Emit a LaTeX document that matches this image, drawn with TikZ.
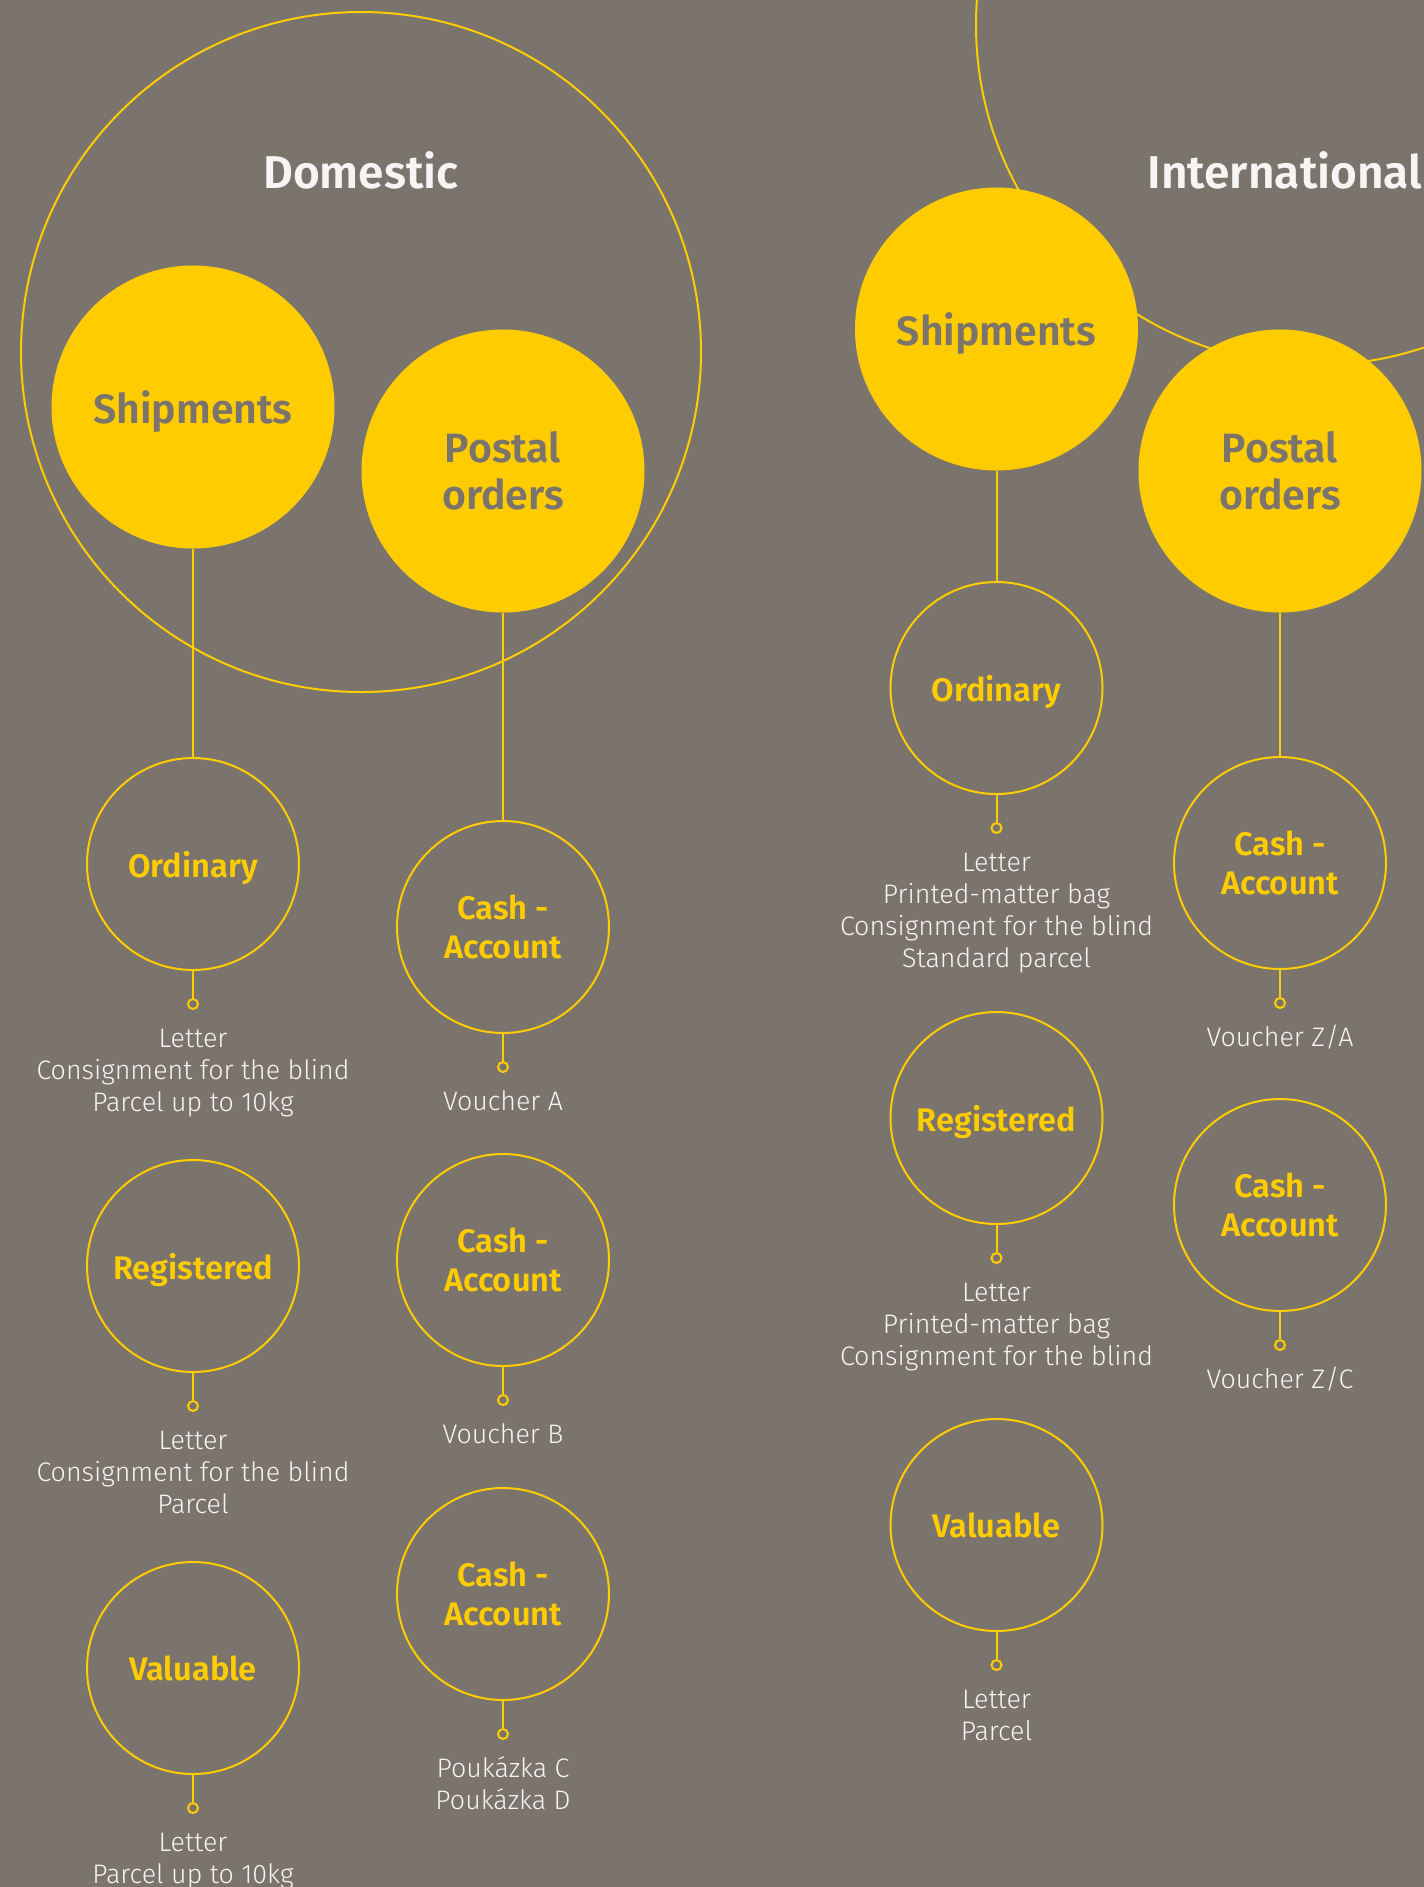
\documentclass[tikz,border=0pt]{standalone}
\usepackage{fontspec}
\setmainfont{Fira Sans}
\newfontfamily\semifont{Fira Sans SemiBold}
\newfontfamily\thinfont{Fira Sans Light}
\definecolor{ground}{RGB}{123,116,109}
\definecolor{gold}{RGB}{255,204,0}
\definecolor{chalk}{RGB}{246,245,243}
% fixed height for the first line of every list
\newcommand\tallstrut{\rule{0pt}{11pt}}

\begin{document}
\begin{tikzpicture}[x=0.5pt,y=-0.5pt,
  group/.style={circle, draw=gold, line width=1pt, minimum size=340pt, inner sep=0pt},
  hub/.style={circle, fill=gold, minimum size=141.5pt, inner sep=0pt,
    text=ground, font=\semifont\fontsize{20.5pt}{23.5pt}\selectfont},
  kind/.style={circle, draw=gold, line width=1pt, minimum size=106pt, inner sep=0pt,
    text=gold, font=\semifont\fontsize{16.3pt}{19.5pt}\selectfont},
  oneline/.style={text depth=0pt},
  twolines/.style={align=center},
  tip/.style={circle, draw=gold, line width=1pt, minimum size=5pt, inner sep=0pt},
  link/.style={draw=gold, line width=1pt},
  items/.style={anchor=north, align=center, text=chalk, inner sep=0pt,
    font=\thinfont\fontsize{13.4pt}{16pt}\selectfont},
  title/.style={anchor=base, text=chalk, inner sep=0pt,
    font=\semifont\fontsize{23pt}{27pt}\selectfont}
]
\fill[ground] (0,0) rectangle (1424,1887);
\useasboundingbox (0,0) rectangle (1424,1887);
\clip (0,0) rectangle (1424,1887);

% the two groups
\node[group] (domestic) at (361,352) {};
\node[group] (international) at (1316,25) {};
\node[title] (domT) at (361,188) {Domestic};
\node[title] (intT) at (1285,188) {International};

% filled hubs
\node[hub, oneline] (shipD) at (193,407) {Shipments};
\node[hub, twolines] (postD) at (503,471) {Postal\\orders};
\node[hub, oneline] (shipI) at (996.5,329) {Shipments};
\node[hub, twolines] (postI) at (1280,471) {Postal\\orders};

% service kinds
\node[kind, oneline] (ordD) at (193,864) {Ordinary};
\node[kind, oneline] (regD) at (193,1266) {Registered};
\node[kind, oneline] (valD) at (193,1668) {Valuable};
\node[kind, twolines] (caD1) at (503,927) {Cash -\\Account};
\node[kind, twolines] (caD2) at (503,1260) {Cash -\\Account};
\node[kind, twolines] (caD3) at (503,1594) {Cash -\\Account};
\node[kind, oneline] (ordI) at (996.5,688) {Ordinary};
\node[kind, oneline] (regI) at (996.5,1118) {Registered};
\node[kind, oneline] (valI) at (996.5,1525) {Valuable};
\node[kind, twolines] (caI1) at (1280,863) {Cash -\\Account};
\node[kind, twolines] (caI2) at (1280,1205) {Cash -\\Account};

% hub to first kind
\draw[link] (shipD.south) -- (ordD.north);
\draw[link] (postD.south) -- (caD1.north);
\draw[link] (shipI.south) -- (ordI.north);
\draw[link] (postI.south) -- (caI1.north);

% small end rings under every kind
\foreach \k in {ordD,regD,valD,caD1,caD2,caD3,ordI,regI,valI,caI1,caI2}{
  \node[tip] (\k-tip) at ([yshift=-70pt]\k.center) {};
  \draw[link] (\k.south) -- (\k-tip.north);
}

% item lists
\node[items] (ordD-list) at ([yshift=-80.5pt]ordD.center)
  {\tallstrut Letter\\Consignment for the blind\\Parcel up to 10kg};
\node[items] (regD-list) at ([yshift=-80.5pt]regD.center)
  {\tallstrut Letter\\Consignment for the blind\\Parcel};
\node[items] (valD-list) at ([yshift=-80.5pt]valD.center)
  {\tallstrut Letter\\Parcel up to 10kg};
\node[items] (caD1-list) at ([yshift=-80.5pt]caD1.center) {\tallstrut Voucher A};
\node[items] (caD2-list) at ([yshift=-80.5pt]caD2.center) {\tallstrut Voucher B};
\node[items] (caD3-list) at ([yshift=-80.5pt]caD3.center)
  {\tallstrut Poukázka C\\Poukázka D};
\node[items] (ordI-list) at ([yshift=-80.5pt]ordI.center)
  {\tallstrut Letter\\Printed-matter bag\\Consignment for the blind\\Standard parcel};
\node[items] (regI-list) at ([yshift=-80.5pt]regI.center)
  {\tallstrut Letter\\Printed-matter bag\\Consignment for the blind};
\node[items] (valI-list) at ([yshift=-80.5pt]valI.center)
  {\tallstrut Letter\\Parcel};
\node[items] (caI1-list) at ([yshift=-80.5pt]caI1.center) {\tallstrut Voucher Z/A};
\node[items] (caI2-list) at ([yshift=-80.5pt]caI2.center) {\tallstrut Voucher Z/C};
\end{tikzpicture}
\end{document}
